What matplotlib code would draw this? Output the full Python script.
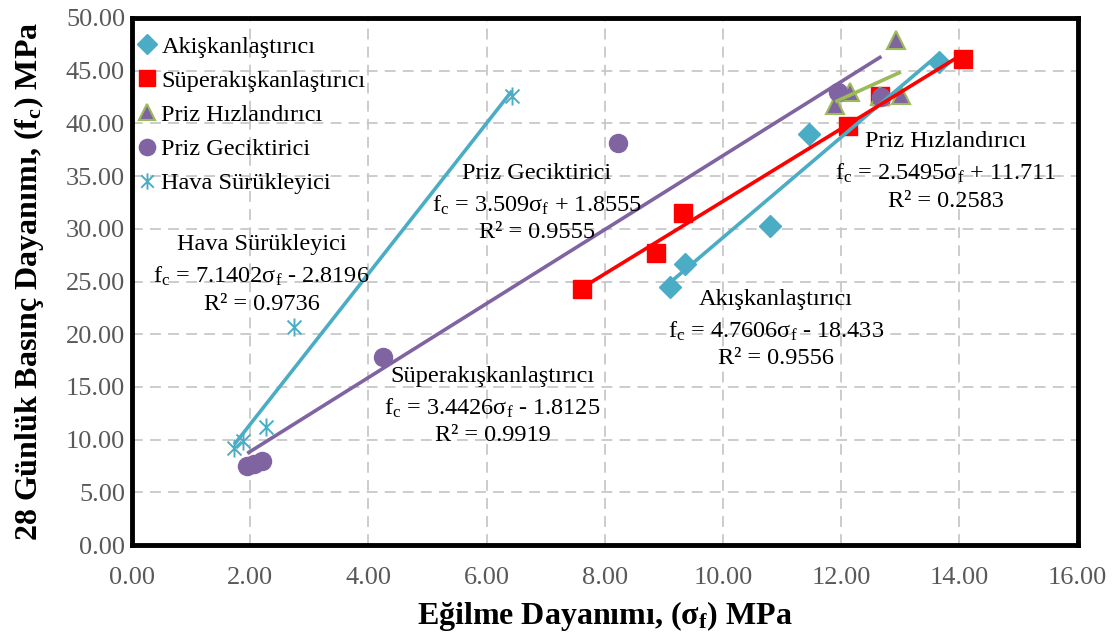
import matplotlib
matplotlib.use("Agg")
import matplotlib.pyplot as plt
from matplotlib.path import Path
import numpy as np

plt.rcParams['font.family'] = ['Liberation Serif', 'DejaVu Serif']
plt.rcParams['mathtext.fontset'] = 'custom'
plt.rcParams['mathtext.rm'] = 'Liberation Serif'
plt.rcParams['mathtext.it'] = 'Liberation Serif:italic'
plt.rcParams['mathtext.bf'] = 'Liberation Serif:bold'

# veriler
akis_x = [9.10, 9.35, 10.80, 11.45, 13.65]
akis_y = [24.5, 26.7, 30.3, 39.0, 45.8]

super_x = [7.61, 8.86, 9.33, 12.12, 12.66, 14.06]
super_y = [24.3, 27.7, 31.5, 39.8, 42.6, 46.1]

hiz_x = [11.90, 12.15, 12.66, 12.93, 13.01]
hiz_y = [41.7, 43.0, 42.6, 47.9, 42.7]

gec_x = [1.95, 2.07, 2.20, 4.25, 8.22, 11.95, 12.68]
gec_y = [7.5, 7.7, 8.0, 17.8, 38.1, 43.0, 42.5]

hava_x = [1.73, 1.87, 2.27, 2.74, 6.43]
hava_y = [9.2, 9.9, 11.2, 20.7, 42.6]

# trend çizgisi katsayıları (grafikteki denklemler)
akis_fit = (4.7606, -18.433)
super_fit = (3.4426, -1.8125)
hiz_fit = (2.5495, 11.711)
gec_fit = (3.509, 1.8555)
hava_fit = (7.1402, -2.8196)

mavi = '#4BACC6'
kirmizi = '#FF0000'
mor = '#8064A2'
yesil = '#9BBB59'

# excel tarzı yıldız (X + dikey çizgi)
yildiz = Path([(-1, -1), (1, 1), (-1, 1), (1, -1), (0, -1.3), (0, 1.3)],
              [Path.MOVETO, Path.LINETO, Path.MOVETO, Path.LINETO, Path.MOVETO, Path.LINETO])

fig = plt.figure(figsize=(11.19, 6.42), dpi=100)
ax = fig.add_axes([0.118, 0.151, 0.845, 0.821])

ax.plot(akis_x, akis_y, 'D', color=mavi, ms=11, label='Akişkanlaştırıcı', zorder=3)
ax.plot(super_x, super_y, 's', color=kirmizi, ms=12.5, label='Süperakışkanlaştırıcı', zorder=3)
ax.plot(hiz_x, hiz_y, '^', color=mor, mec=yesil, mew=1.5, ms=13, label='Priz Hızlandırıcı', zorder=3)
ax.plot(gec_x, gec_y, 'o', color=mor, ms=13, label='Priz Geciktirici', zorder=3)
ax.plot(hava_x, hava_y, marker=yildiz, ls='none', color=mavi, mew=1.4, ms=13,
        label='Hava Sürükleyici', zorder=3)

def trend(xs, fit, renk):
    x = np.array([min(xs), max(xs)])
    ax.plot(x, fit[0] * x + fit[1], color=renk, lw=2.6, zorder=4, solid_capstyle='butt')

trend(akis_x, akis_fit, mavi)
trend(super_x, super_fit, kirmizi)
trend(hiz_x, hiz_fit, yesil)
trend(gec_x, gec_fit, mor)
trend(hava_x, hava_fit, mavi)

def denklem(x, y, baslik, a, b, r2):
    isaret = '+' if b >= 0 else '-'
    satirlar = [baslik,
                'f$_\\mathregular{c}$ = ' + str(a) + 'σ$_\\mathregular{f}$ ' + isaret + ' ' + str(abs(b)),
                'R² = ' + r2]
    for i, s in enumerate(satirlar):
        yy = y - [0, 3.0, 5.65][i]
        ax.text(x, yy, s, ha='center', va='center_baseline', fontsize=17.5, zorder=5)

denklem(2.19, 28.75, 'Hava Sürükleyici', 7.1402, -2.8196, '0.9736')
denklem(6.85, 35.5, 'Priz Geciktirici', 3.509, 1.8555, '0.9555')
denklem(6.10, 16.25, 'Süperakışkanlaştırıcı', 3.4426, -1.8125, '0.9919')
denklem(10.90, 23.55, 'Akışkanlaştırıcı', 4.7606, -18.433, '0.9556')
denklem(13.77, 38.5, 'Priz Hızlandırıcı', 2.5495, 11.711, '0.2583')

ax.set_xlim(0, 16)
ax.set_ylim(0, 50)
ax.set_xticks(np.arange(0, 17, 2))
ax.set_yticks(np.arange(0, 51, 5))
ax.xaxis.set_major_formatter(lambda v, p: f'{v:.2f}')
ax.yaxis.set_major_formatter(lambda v, p: f'{v:.2f}')
ax.tick_params(length=0, labelsize=19, labelcolor='#595959')
ax.tick_params(axis='x', pad=16)
ax.tick_params(axis='y', pad=5)
ax.grid(True, color='#C8C8C8', ls=(0, (6, 4)), lw=1.3)
ax.set_axisbelow(True)
for s in ax.spines.values():
    s.set_linewidth(3.5)
    s.set_color('black')

ax.set_xlabel('Eğilme Dayanımı, (σ$_\\mathregular{f}$) MPa', fontsize=23, fontweight='bold', labelpad=7)
ax.set_ylabel('28 Günlük Basınç Dayanımı, (f$_\\mathregular{c}$) MPa', fontsize=23, fontweight='bold', labelpad=14)

ax.legend(loc='upper left', bbox_to_anchor=(-0.005, 0.985), frameon=False,
          prop={'family': 'Liberation Serif', 'size': 17.5},
          handlelength=0.8, handletextpad=0.2, labelspacing=0.5, borderaxespad=0,
          numpoints=1, markerscale=0.9)

fig.savefig('out.png', dpi=100)
